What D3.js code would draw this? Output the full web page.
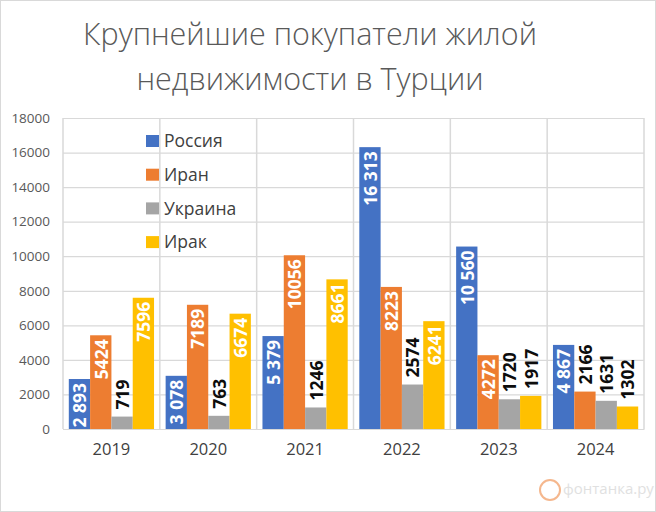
<!DOCTYPE html>
<html><head><meta charset="utf-8">
<script src="https://cdn.jsdelivr.net/npm/d3@7"></script>
<style>body{margin:0;background:#fff}svg{display:block}</style></head>
<body><svg id="c" width="656" height="512"></svg>
<script>
const titleLines = ["Крупнейшие покупатели жилой", "недвижимости в Турции"];
const years = ["2019", "2020", "2021", "2022", "2023", "2024"];
const seriesNames = ["Россия", "Иран", "Украина", "Ирак"];
const russia = [2893, 3078, 5379, 16313, 10560, 4867];
const iran = [5424, 7189, 10056, 8223, 4272, 2166];
const ukraine = [719, 763, 1246, 2574, 1720, 1631];
const iraq = [7596, 6674, 8661, 6241, 1917, 1302];
const yTicks = [0, 2000, 4000, 6000, 8000, 10000, 12000, 14000, 16000, 18000];
const colors = ["#4472C4", "#ED7D31", "#A5A5A5", "#FFC000"];

(function () {
const seriesValues = [russia, iran, ukraine, iraq];
const ru = d3.formatLocale({decimal: ",", thousands: "\u00a0", grouping: [3], currency: ["", ""]});
const fmtSpaced = ru.format(",d");
const fmtPlain = d3.format("d");
const fmts = [fmtSpaced, fmtPlain, fmtPlain, fmtPlain];

const svg = d3.select("#c");
const W = 656, H = 512;
svg.append("rect").attr("x", 0.5).attr("y", 0.5).attr("width", W - 1).attr("height", H - 1)
  .attr("fill", "#fff").attr("stroke", "#d9d9d9");

const pL = 63, pR = 644, pT = 118, pB = 429;
const x0 = d3.scaleBand().domain(years).range([pL, pR]).padding(0);
const x1 = d3.scaleBand().domain(seriesNames).range([5.8, x0.bandwidth() - 5.8]).padding(0);
const y = d3.scaleLinear().domain([0, 18000]).range([pB, pT]);

svg.append("g").selectAll("text").data(titleLines).join("text")
  .attr("x", 310).attr("y", (d, i) => 45 + i * 45)
  .attr("text-anchor", "middle")
  .attr("font-family", "Open Sans, sans-serif").attr("font-weight", 300)
  .attr("font-size", 30.5).attr("fill", "#595959").text(d => d);

const grid = svg.append("g");
grid.selectAll("line.h").data(yTicks).join("line").attr("class", "h")
  .attr("x1", pL).attr("x2", pR).attr("y1", d => y(d) + 0.5).attr("y2", d => y(d) + 0.5)
  .attr("stroke", "#d9d9d9").attr("stroke-width", 1.2);
const bounds = years.map(d => x0(d)).concat([pR]);
grid.selectAll("line.v").data(bounds).join("line").attr("class", "v")
  .attr("x1", d => d).attr("x2", d => d).attr("y1", pT).attr("y2", pB)
  .attr("stroke", "#d9d9d9").attr("stroke-width", 1.5);

const yAxis = d3.axisLeft(y).tickValues(yTicks).tickSize(0).tickPadding(13).tickFormat(d3.format("d"));
const ya = svg.append("g").attr("transform", `translate(${pL},0)`).call(yAxis);
ya.select(".domain").remove();
ya.selectAll("text").attr("font-family", "Open Sans, sans-serif").attr("font-size", 13.5).attr("fill", "#595959");

const xAxis = d3.axisBottom(x0).tickSize(0).tickPadding(14);
const xa = svg.append("g").attr("transform", `translate(0,${pB})`).call(xAxis);
xa.select(".domain").attr("stroke", "#d9d9d9");
xa.selectAll("text").attr("font-family", "Open Sans, sans-serif").attr("font-size", 16.5).attr("fill", "#404040");

const data = [];
years.forEach((yr, i) => seriesNames.forEach((s, j) => data.push({yr, s, j, v: seriesValues[j][i]})));
svg.append("g").selectAll("rect").data(data).join("rect")
  .attr("x", d => x0(d.yr) + x1(d.s)).attr("width", x1.bandwidth())
  .attr("y", d => y(d.v)).attr("height", d => pB - y(d.v))
  .attr("fill", d => colors[d.j]);

const lblG = svg.append("g");
data.forEach(d => {
  const cx = x0(d.yr) + x1(d.s) + x1.bandwidth() / 2;
  const h = pB - y(d.v);
  const inside = h > 48;
  lblG.append("text")
    .attr("transform", `translate(${cx + 0.5},${inside ? y(d.v) + 4 : y(d.v) - 7}) rotate(-90)`)
    .attr("text-anchor", inside ? "end" : "start")
    .attr("dy", "0.36em")
    .attr("font-family", "Open Sans, sans-serif").attr("font-weight", 700).attr("font-size", 17.5)
    .attr("fill", inside ? "#ffffff" : "#0d0d0d")
    .text(fmts[d.j](d.v));
});

const lg = svg.append("g");
seriesNames.forEach((s, j) => {
  const cy = 141 + j * 33.7;
  lg.append("rect").attr("x", 146).attr("y", cy - 6).attr("width", 13).attr("height", 12).attr("fill", colors[j]);
  lg.append("text").attr("x", 164).attr("y", cy).attr("dy", "0.36em")
    .attr("font-family", "Open Sans, sans-serif").attr("font-size", 17.5).attr("fill", "#404040").text(s);
});

const wm = svg.append("g").attr("opacity", 0.55);
wm.append("circle").attr("cx", 550).attr("cy", 490).attr("r", 10).attr("fill", "none").attr("stroke", "#ED7D31").attr("stroke-width", 2);
wm.append("text").attr("x", 563).attr("y", 494).attr("font-family", "Open Sans, sans-serif")
  .attr("font-size", 15).attr("fill", "#c8c8c8").text("фонтанка.ру");
})();
</script></body></html>
